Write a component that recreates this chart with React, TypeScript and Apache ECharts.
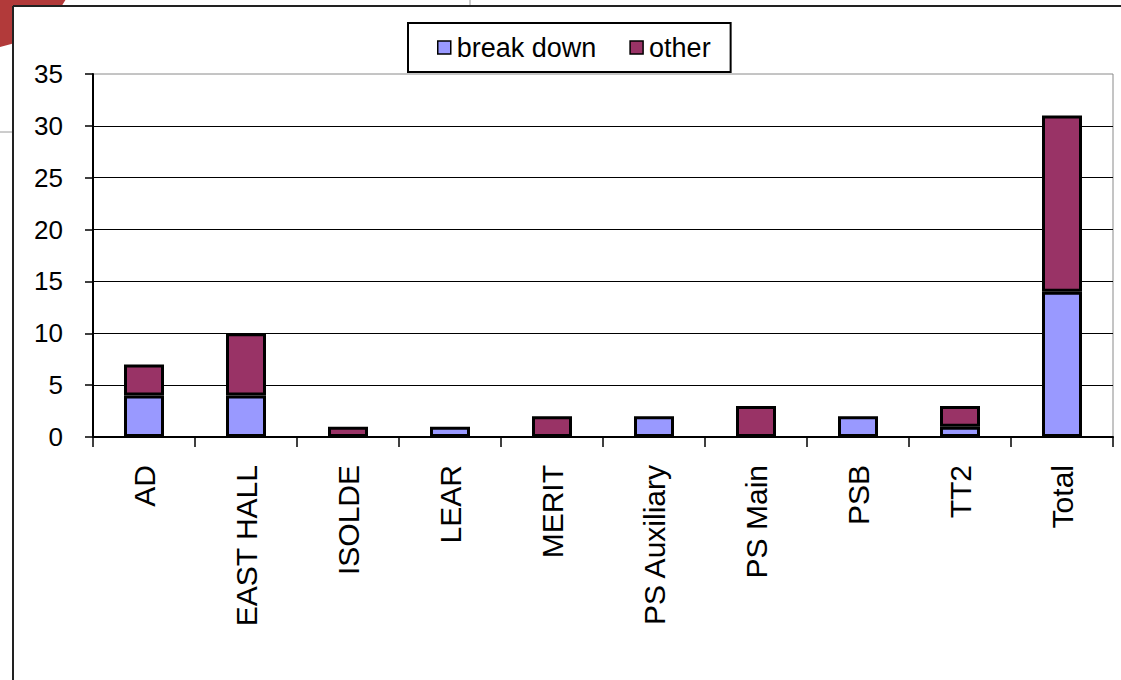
import React, { useEffect, useRef } from "react";
import * as echarts from "echarts";

const categories = ["AD", "EAST HALL", "ISOLDE", "LEAR", "MERIT", "PS Auxiliary", "PS Main", "PSB", "TT2", "Total"];
const breakDown = [4, 4, 0, 1, 0, 2, 0, 2, 1, 14];
const other = [3, 6, 1, 0, 2, 0, 3, 0, 2, 17];
const seriesNames = ["break down", "other"];
const yTicks = { min: 0, max: 35, interval: 5 };

const FONT = "'Liberation Sans', Arial, sans-serif";

// empty segments are not drawn (avoid zero-height bordered rectangles)
const asBarData = (arr: number[]) => arr.map((v) => (v === 0 ? null : v));

export default function App() {
  const ref = useRef<HTMLDivElement>(null);
  useEffect(() => {
    if (!ref.current) return;
    const chart = echarts.init(ref.current, null, { renderer: "svg" });
    chart.setOption({
      animation: false,
      backgroundColor: "#ffffff",
      textStyle: { fontFamily: FONT, color: "#000" },
      graphic: [
        { type: "circle", z: -20, shape: { cx: -20, cy: -50, r: 99 }, style: { fill: "#b23a3a" } },
        { type: "rect", z: -10, shape: { x: 13, y: 6, width: 1200, height: 700 }, style: { fill: "#ffffff" } },
        { type: "line", z: -5, shape: { x1: 0, y1: 132, x2: 13, y2: 132 }, style: { stroke: "#9a9a9a", lineWidth: 1 } },
        { type: "line", z: -5, shape: { x1: 470, y1: 0, x2: 470, y2: 6 }, style: { stroke: "#9a9a9a", lineWidth: 1 } },
        { type: "line", z: -5, shape: { x1: 13, y1: 6, x2: 1121, y2: 6 }, style: { stroke: "#222", lineWidth: 2 } },
        { type: "line", z: -5, shape: { x1: 13, y1: 6, x2: 13, y2: 680 }, style: { stroke: "#222", lineWidth: 2 } },
      ],
      legend: {
        left: 408,
        top: 23,
        padding: [11, 20, 11, 29],
        borderColor: "#000",
        borderWidth: 2,
        backgroundColor: "#fff",
        itemWidth: 13,
        itemHeight: 13,
        itemGap: 33,
        icon: "rect",
        itemStyle: { borderColor: "#000", borderWidth: 1.5 },
        textStyle: { fontSize: 27, fontFamily: FONT, color: "#000", padding: [0, 0, 0, 1] },
        data: seriesNames,
      },
      grid: {
        left: 93,
        right: 8,
        top: 74,
        bottom: 243,
        show: true,
        borderColor: "#8a8a8a",
        borderWidth: 1,
        backgroundColor: "transparent",
      },
      xAxis: {
        type: "category",
        data: categories,
        axisLine: { lineStyle: { color: "#000", width: 2 } },
        axisTick: { show: true, length: 10, lineStyle: { color: "#000", width: 1.5 } },
        axisLabel: {
          rotate: 90,
          margin: 28,
          fontSize: 30,
          fontFamily: FONT,
          color: "#000",
          interval: 0,
        },
      },
      yAxis: {
        type: "value",
        min: yTicks.min,
        max: yTicks.max,
        interval: yTicks.interval,
        axisLine: { show: true, lineStyle: { color: "#000", width: 2 } },
        axisTick: { show: true, length: 8, lineStyle: { color: "#000", width: 1.5 } },
        axisLabel: { margin: 30, fontSize: 26, fontFamily: FONT, color: "#000" },
        splitLine: { show: true, showMaxLine: false, lineStyle: { color: "#000", width: 1.2 } },
      },
      series: [
        {
          name: seriesNames[0],
          type: "bar",
          stack: "s",
          barWidth: 40,
          data: asBarData(breakDown),
          itemStyle: { color: "#9999ff", borderColor: "#000", borderWidth: 3 },
        },
        {
          name: seriesNames[1],
          type: "bar",
          stack: "s",
          barWidth: 40,
          data: asBarData(other),
          itemStyle: { color: "#993366", borderColor: "#000", borderWidth: 3 },
        },
      ],
    });
    return () => chart.dispose();
  }, []);
  return <div ref={ref} style={{ position: "absolute", left: 0, top: 0, width: 1121, height: 680 }} />;
}
